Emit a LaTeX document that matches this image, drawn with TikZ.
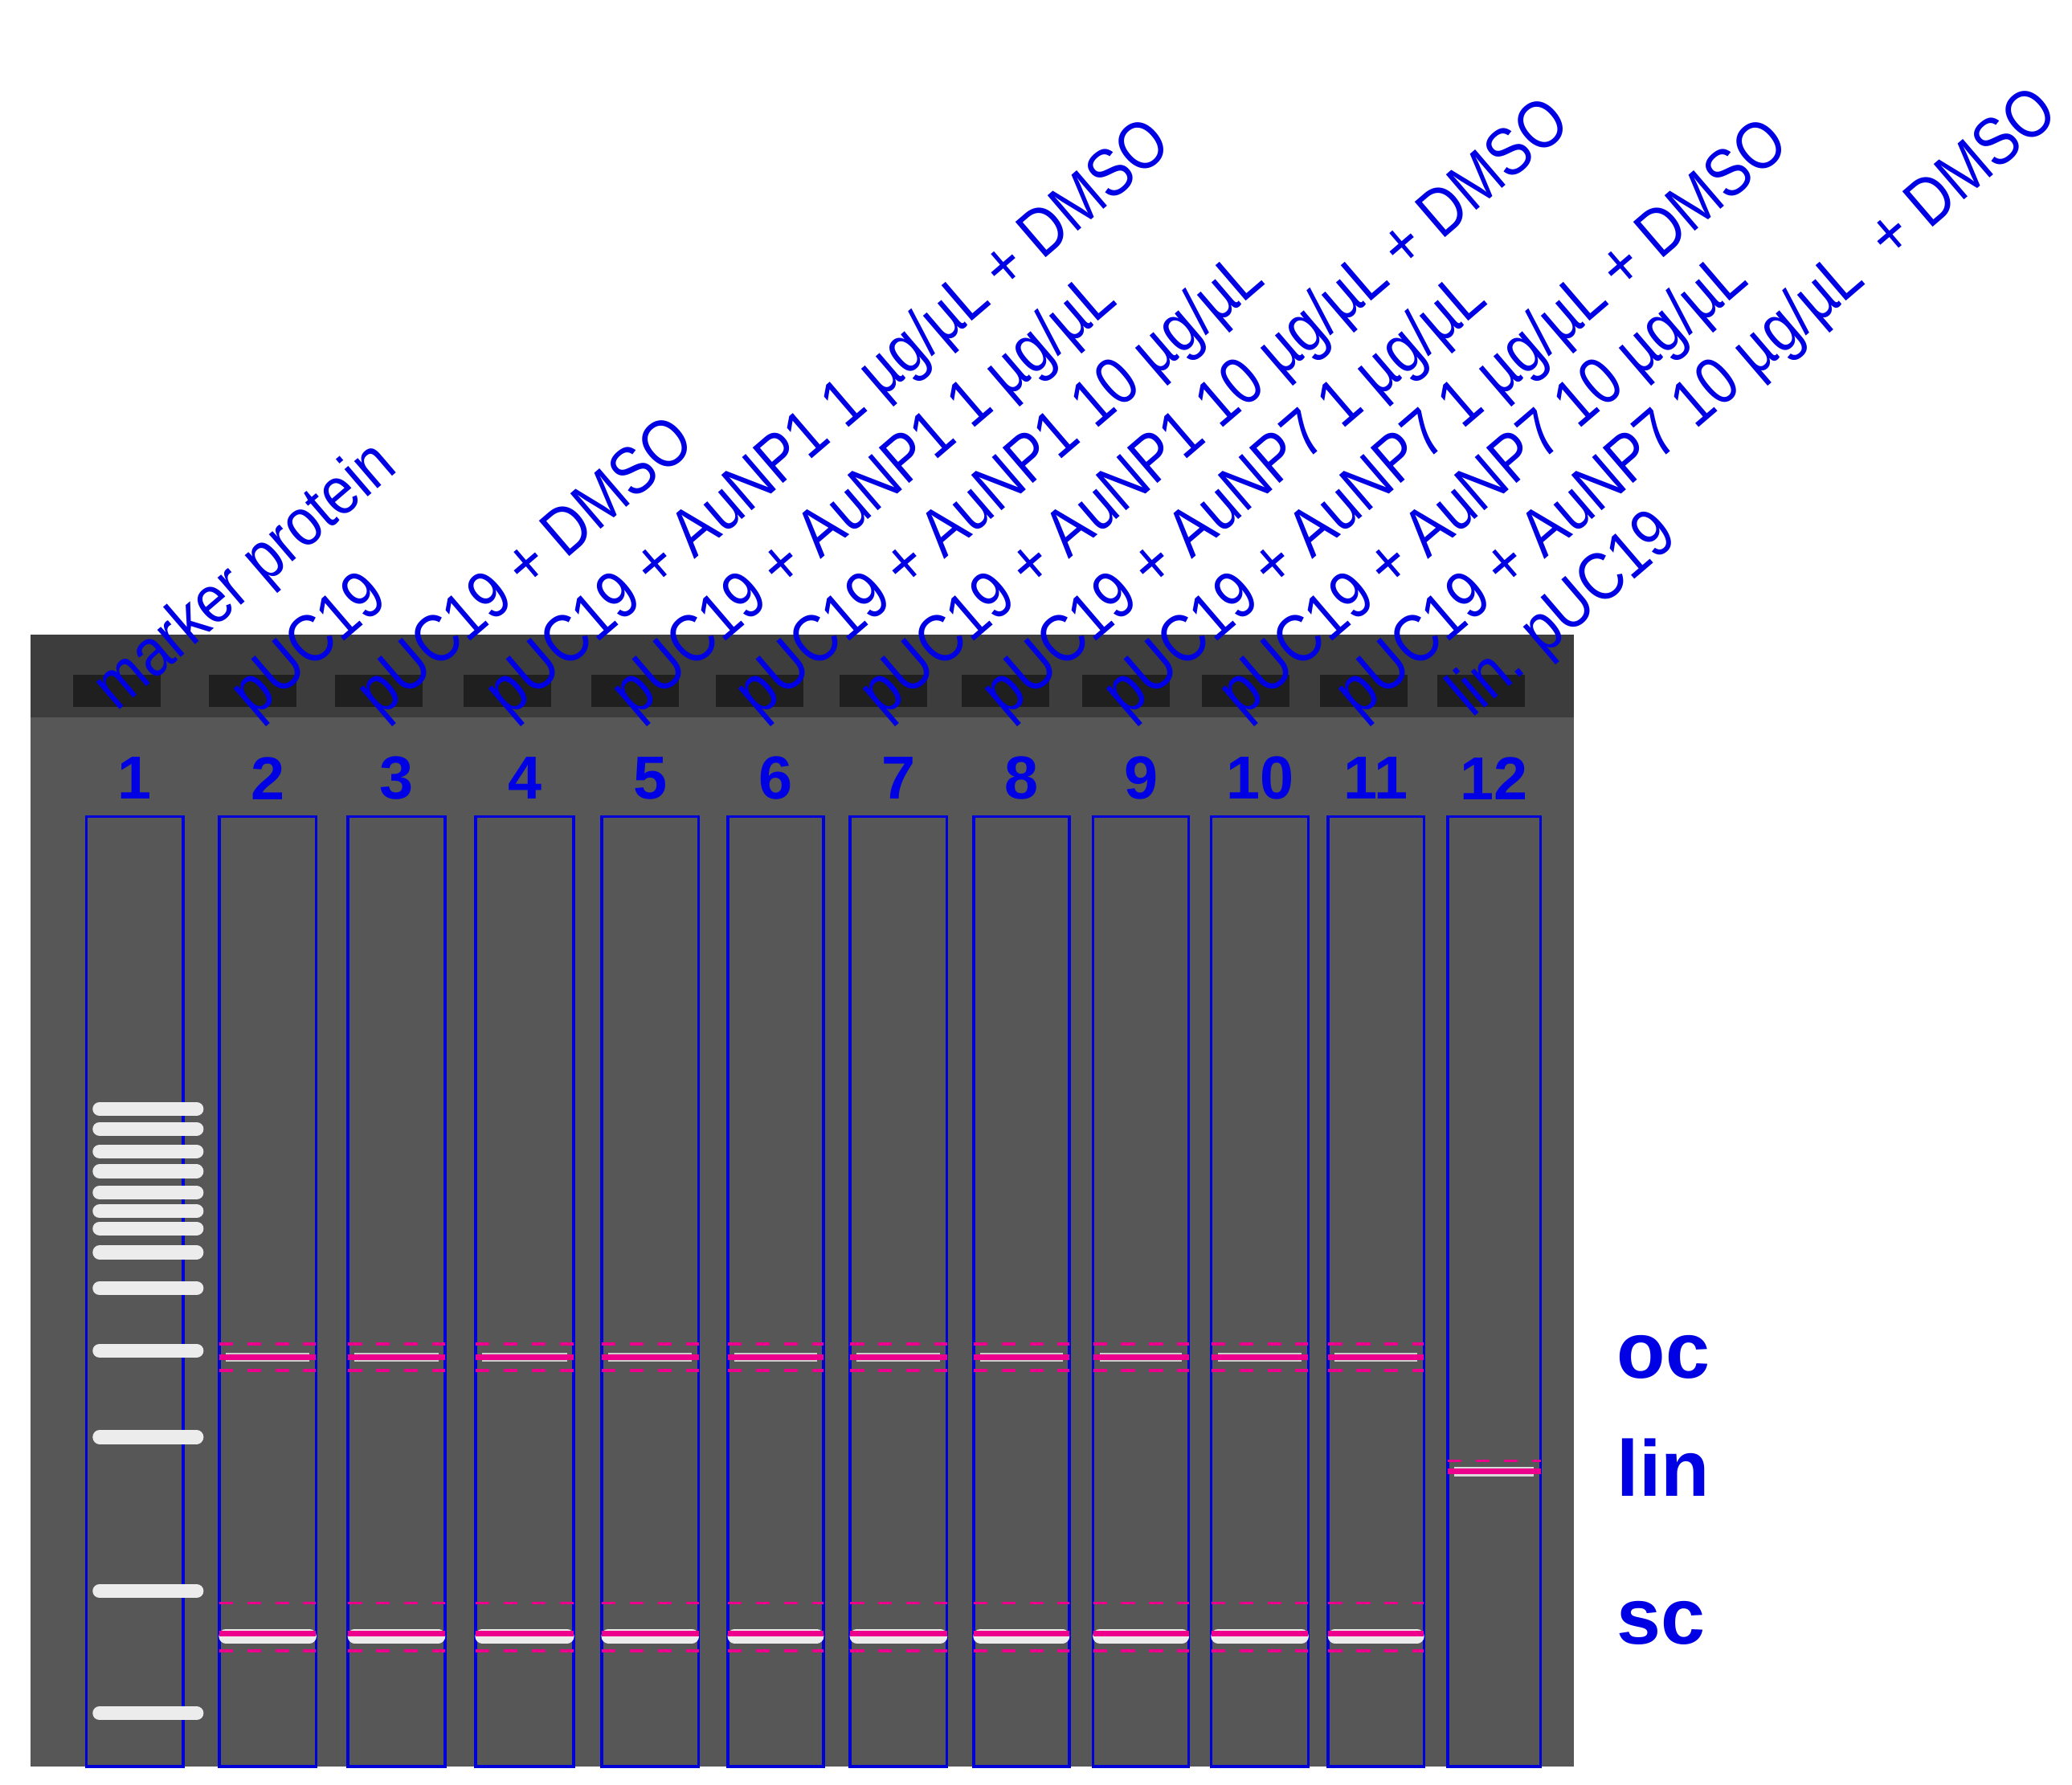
\documentclass[tikz,border=0pt]{standalone}
\usepackage{fontspec}
\setmainfont{Liberation Sans}
\newfontfamily\lblfont[FakeStretch=0.85]{Liberation Sans}
\begin{document}
\begin{tikzpicture}[x=0.01cm,y=-0.01cm,
  lane/.style={draw=blue!85!black,line width=0.6pt},
  lbl/.style={text=blue!90!black,anchor=south west,rotate=40.6,font=\lblfont\fontsize{14.5}{16}\selectfont,inner sep=0pt},
  num/.style={text=blue!90!black,font=\bfseries\fontsize{13}{15}\selectfont},
  side/.style={text=blue!90!black,font=\bfseries\fontsize{17}{19}\selectfont,anchor=west},
  band/.style={white!85!gray,line width=3pt,line cap=round},
  mag/.style={magenta,line width=1.2pt},
  magd/.style={magenta,line width=0.6pt,dashed}]
\useasboundingbox (0,0) rectangle (1560,1344);
\fill[white] (0,0) rectangle (1560,1344);
\fill[black!66] (23,478) rectangle (1185,1330);
\fill[black!76] (23,478) rectangle (1185,540);
% wells
\foreach \x in {88,190,285,382,478,572,665,757,848,938,1027,1115}
  \fill[black!88] (\x-33,508) rectangle (\x+33,532);
% lanes
\foreach \i/\a/\b in {1/65/138,2/165/238,3/262/335,4/358/432,5/453/526,6/548/620,7/640/713,8/733/805,9/823/895,10/912/985,11/1000/1072,12/1090/1160}{
  \draw[lane] (\a,615) rectangle (\b,1330);
  \node[num] (n\i) at ({(\a+\b)/2},586) {\i};
}
% ladder
\foreach \y in {835,850,867,882,898,912,925,943,970,1017,1082,1198,1290}
  \draw[band] (75,\y) -- (148,\y);
% sample bands
\foreach \a/\b in {165/238,262/335,358/432,453/526,548/620,640/713,733/805,823/895,912/985,1000/1072}{
  \draw[band] (\a+5,1232) -- (\b-5,1232);
  \draw[white!60!gray,line width=2pt] (\a+5,1022) -- (\b-5,1022);
  \draw[mag] (\a,1022) -- (\b,1022);
  \draw[magd] (\a,1012) -- (\b,1012);
  \draw[magd] (\a,1032) -- (\b,1032);
  \draw[mag] (\a,1230) -- (\b,1230);
  \draw[magd] (\a,1207) -- (\b,1207);
  \draw[magd] (\a,1243) -- (\b,1243);
}
\draw[white!70!gray,line width=2pt] (1095,1108) -- (1155,1108);
\draw[mag] (1090,1108) -- (1160,1108);
\draw[magd] (1090,1100) -- (1160,1100);
% labels
\node[lbl] (l1) at (95,545) {marker protein};
\node[lbl] (l2) at (198,550) {pUC19};
\node[lbl] (l3) at (293,550) {pUC19 + DMSO};
\node[lbl] (l4) at (390,550) {pUC19 + AuNP1 1 µg/µL + DMSO};
\node[lbl] (l5) at (485,550) {pUC19 + AuNP1 1 µg/µL};
\node[lbl] (l6) at (578,550) {pUC19 + AuNP1 10 µg/µL};
\node[lbl] (l7) at (672,550) {pUC19 + AuNP1 10 µg/µL + DMSO};
\node[lbl] (l8) at (764,550) {pUC19 + AuNP7 1 µg/µL};
\node[lbl] (l9) at (855,550) {pUC19 + AuNP7 1 µg/µL + DMSO};
\node[lbl] (l10) at (942,550) {pUC19 + AuNP7 10 µg/µL};
\node[lbl] (l11) at (1030,550) {pUC19 + AuNP7 10 µg/µL~ + DMSO};
\node[lbl] (l12) at (1115,550) {lin. pUC19};
\node[side] (oc) at (1205,1022) {oc};
\node[side] (lin) at (1205,1105) {lin};
\node[side] (sc) at (1205,1222) {sc};
\end{tikzpicture}
\end{document}
